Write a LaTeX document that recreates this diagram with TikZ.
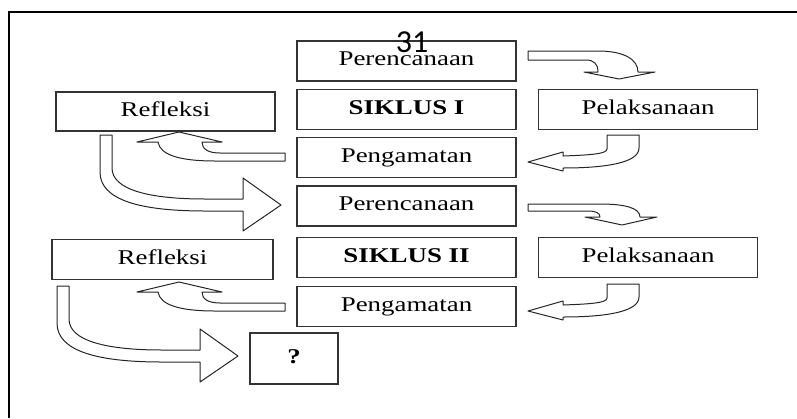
\documentclass[tikz,border=0pt]{standalone}
\usepackage{fontspec}
\setmainfont{Liberation Serif}[FakeStretch=1.28]
\newfontfamily\pagefont{Carlito}
\usetikzlibrary{positioning}

\begin{document}
\begin{tikzpicture}[x=1pt, y=-1pt,
    box/.style={draw=black!80, line width=1.3pt, rectangle, minimum width=219pt,
      minimum height=40pt, inner sep=0pt, text height=14pt, text depth=5pt,
      font=\fontsize{21}{24}\selectfont},
    blockarrow/.style={draw=black!85, line width=1pt, fill=white, line join=round}]
%
    \useasboundingbox (0,0) rectangle (797,418);
    \draw[line width=2pt] (8.5,418) -- (8.5,11.5) -- (797,11.5);
%
    % first cycle
    \node[box] (plan1) at (406.5,61) {Perencanaan};
    \node[box] (cycle1) at (406.5,109.5) {\bfseries SIKLUS I};
    \node[box] (act1) at (648,109.5) {Pelaksanaan};
    \node[box, minimum height=39pt] (refl1) at (165.5,111.5) {Refleksi};
    \node[box] (obs1) at (406.5,157.5) {Pengamatan};
%
    % second cycle
    \node[box] (plan2) at (406.5,206) {Perencanaan};
    \node[box] (cycle2) at (406.5,257.5) {\bfseries SIKLUS II};
    \node[box] (act2) at (648,257.5) {Pelaksanaan};
    \node[box, minimum width=221pt] (refl2) at (162.5,259.5) {Refleksi};
    \node[box] (obs2) at (406.5,306.5) {Pengamatan};
    \node[box, minimum width=88pt, minimum height=51pt] (next) at (294,358.5) {\bfseries ?};
%
    \node[font=\pagefont\fontsize{32}{36}\selectfont, anchor=base] (pagenum) at (412,52) {31};
%
    % perencanaan -> pelaksanaan
    \draw[blockarrow] (528,51) -- (598,51) .. controls (625,51) and (638,60) .. (638,72)
      -- (655,72) -- (619,79) -- (584,72) -- (598,72)
      .. controls (598,64) and (594,60) .. (586,60) -- (528,60) -- cycle;
    \draw[blockarrow] (528,204) -- (600,204) .. controls (625,204) and (640,208) .. (640,217)
      -- (657,217) -- (622,225) -- (585,217) -- (600,217)
      .. controls (600,213) and (596,211) .. (588,211) -- (528,211) -- cycle;
%
    % pelaksanaan -> pengamatan
    \foreach \dy in {0,149}
      \draw[blockarrow, shift={(0,\dy)}] (607,135) -- (639,135) -- (639,148)
        .. controls (639,163) and (605,168) .. (563,168) -- (563,171) -- (528,162)
        -- (563,152) -- (563,156) .. controls (590,155) and (607,154) .. (607,149) -- cycle;
%
    % pengamatan -> refleksi
    \foreach \dy in {0,150}
      \draw[blockarrow, shift={(0,\dy)}] (285,153) -- (220,153)
        .. controls (208,153) and (202,149) .. (202,142) -- (222,142) -- (179,132)
        -- (137,142) -- (158,142) .. controls (160,155) and (180,161) .. (215,161)
        -- (285,161) -- cycle;
%
    % refleksi -> next cycle
    \foreach \dx/\dy in {0/0,-43/151}
      \draw[blockarrow, shift={(\dx,\dy)}] (100,135) -- (112,135) -- (112,168)
        .. controls (112,190) and (150,199) .. (205,199) -- (243,199) -- (243,178)
        -- (281,205) -- (243,231) -- (243,211) -- (205,211)
        .. controls (140,211) and (100,200) .. (100,172) -- cycle;
  \end{tikzpicture}
\end{document}
